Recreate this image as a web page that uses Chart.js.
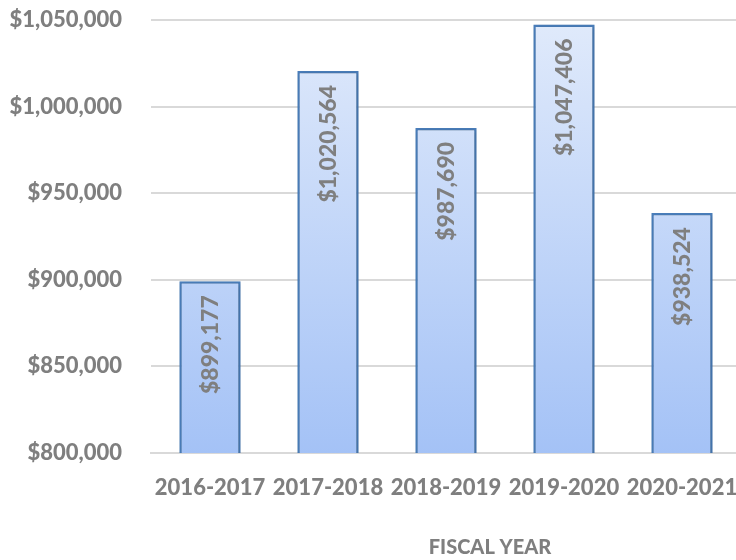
<!DOCTYPE html>
<html>
<head>
<meta charset="utf-8">
<script src="https://cdn.jsdelivr.net/npm/chart.js@4"></script>
<style>
  html, body { margin: 0; padding: 0; background: #fff; overflow: hidden; }
  #wrap { width: 745px; height: 560px; }
</style>
</head>
<body>
<div id="wrap"><canvas id="fundingChart" width="745" height="560"></canvas></div>
<script>
// fiscal years and amounts
const fiscalYears = ['2016-2017', '2017-2018', '2018-2019', '2019-2020', '2020-2021'];
const amounts = [899177, 1020564, 987690, 1047406, 938524];
const yMin = 800000;
const yMax = 1050000;
const yStep = 50000;
const axisTitle = 'FISCAL YEAR';

const grey = '#7f7f7f';
const fontFamily = 'Lato, "Open Sans", sans-serif';
const heavy = 900;

function money(v) {
    return '$' + Number(v).toLocaleString('en-US');
}

// gradient fill for bars, top light to bottom a bit darker
function barGradient(context) {
    const chart = context.chart;
    const area = chart.chartArea;
    if (!area) return '#c9dbf8';
    const g = chart.ctx.createLinearGradient(0, area.top, 0, area.bottom);
    g.addColorStop(0, '#e0eafb');
    g.addColorStop(1, '#a4c2f6');
    return g;
}

// soft shadow behind the bars
const barShadow = {
    id: 'barShadow',
    beforeDatasetsDraw(chart) {
        const ctx = chart.ctx;
        ctx.save();
        ctx.shadowColor = 'rgba(0,0,0,0.22)';
        ctx.shadowBlur = 4;
        ctx.shadowOffsetX = 1;
        ctx.shadowOffsetY = 1;
    },
    afterDatasetsDraw(chart) {
        chart.ctx.restore();
    }
};

// rotated value labels inside each bar, near its top
const valueLabels = {
    id: 'valueLabels',
    afterDatasetsDraw(chart) {
        const ctx = chart.ctx;
        const meta = chart.getDatasetMeta(0);
        ctx.save();
        ctx.fillStyle = grey;
        ctx.font = heavy + ' 23px ' + fontFamily;
        ctx.textAlign = 'right';
        ctx.textBaseline = 'middle';
        meta.data.forEach((bar, i) => {
            ctx.save();
            ctx.translate(bar.x + 1, bar.y + 14);
            ctx.rotate(-Math.PI / 2);
            ctx.fillText(money(amounts[i]), 0, 0);
            ctx.restore();
        });
        ctx.restore();
    }
};

// axis title sits a little right of the plot centre in the reference
const bottomTitle = {
    id: 'bottomTitle',
    afterDraw(chart) {
        const ctx = chart.ctx;
        const area = chart.chartArea;
        ctx.save();
        ctx.fillStyle = grey;
        ctx.font = heavy + ' 20px ' + fontFamily;
        ctx.textAlign = 'center';
        ctx.textBaseline = 'middle';
        ctx.fillText(axisTitle, (area.left + area.right) / 2 + 44, 548);
        ctx.restore();
    }
};

const ctx = document.getElementById('fundingChart');

new Chart(ctx, {
    type: 'bar',
    data: {
        labels: fiscalYears,
        datasets: [{
            data: amounts,
            backgroundColor: barGradient,
            borderColor: '#4a7ebb',
            borderWidth: 2.5,
            borderSkipped: false,
            categoryPercentage: 1,
            barPercentage: 0.52
        }]
    },
    options: {
        responsive: false,
        animation: false,
        events: [],
        layout: {
            autoPadding: false,
            padding: { top: 20, right: 4, left: 0, bottom: 0 }
        },
        plugins: {
            legend: { display: false },
            tooltip: { enabled: false }
        },
        scales: {
            x: {
                grid: { display: false, drawTicks: false },
                border: { display: true, color: '#d9d9d9', width: 2 },
                ticks: {
                    color: grey,
                    font: { family: fontFamily, size: 22, weight: heavy },
                    padding: 22,
                    maxRotation: 0,
                    autoSkip: false
                },
                afterFit(scale) {
                    scale.height = 107;
                    scale.paddingLeft = 0;
                    scale.paddingRight = 0;
                }
            },
            y: {
                min: yMin,
                max: yMax,
                grid: { color: '#d9d9d9', lineWidth: 2, drawTicks: false },
                border: { display: false },
                ticks: {
                    stepSize: yStep,
                    color: grey,
                    font: { family: fontFamily, size: 22, weight: heavy },
                    padding: 29,
                    callback: v => money(v)
                },
                afterFit(scale) {
                    scale.width = 151;
                    scale.paddingTop = 0;
                    scale.paddingBottom = 0;
                }
            }
        }
    },
    plugins: [barShadow, valueLabels, bottomTitle]
});
</script>
</body>
</html>
